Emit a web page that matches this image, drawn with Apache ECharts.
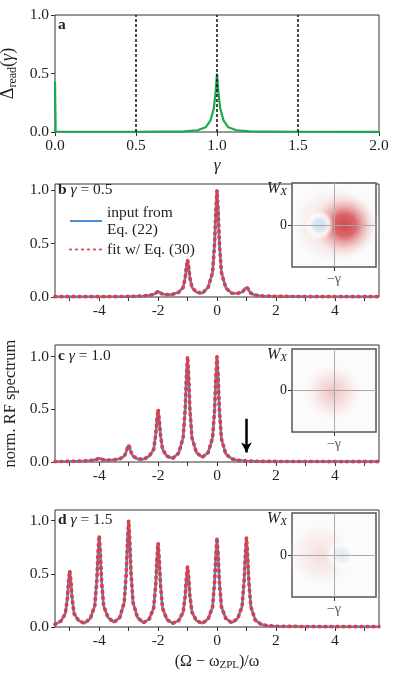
<!DOCTYPE html>
<html>
<head>
<meta charset="utf-8">
<script src="https://cdn.jsdelivr.net/npm/echarts@6/dist/echarts.min.js"></script>
<style>
  html, body { margin: 0; padding: 0; background: #fff; }
  #graph { width: 399px; height: 677px; }
</style>
</head>
<body>
<div id="graph"></div>
<script>
// panel a: readout contrast vs gamma
var curveA = [[0, 0.43], [0.004, 0.002], [0.5, 0.002], [0.8, 0.006], [0.88, 0.015], [0.93, 0.04],
  [0.96, 0.1], [0.98, 0.2], [0.99, 0.32], [1.0, 0.5], [1.01, 0.32], [1.02, 0.2], [1.04, 0.1],
  [1.07, 0.04], [1.12, 0.015], [1.2, 0.006], [1.5, 0.002], [2.0, 0.001]];
var vlinesA = [0.5, 1.0, 1.5];

// panel b: gamma = 0.5
var specB = [[-5.5, 0.003], [-4, 0.003], [-3, 0.005], [-2.5, 0.01],
  [-2.3, 0.015], [-2.15, 0.025], [-2.08, 0.035], [-2.04, 0.048], [-2, 0.055], [-1.96, 0.048], [-1.92, 0.037], [-1.85, 0.028], [-1.7, 0.022], [-1.5, 0.025],
  [-1.3, 0.045], [-1.15, 0.09], [-1.08, 0.18], [-1.04, 0.28], [-1, 0.35], [-0.96, 0.28], [-0.92, 0.18], [-0.85, 0.09], [-0.7, 0.045], [-0.5, 0.035],
  [-0.3, 0.09], [-0.15, 0.23], [-0.08, 0.51], [-0.04, 0.8], [0, 1.0], [0.04, 0.8], [0.08, 0.51], [0.15, 0.23], [0.3, 0.085], [0.5, 0.035],
  [0.7, 0.035], [0.85, 0.045], [0.92, 0.065], [0.96, 0.085], [1, 0.1], [1.04, 0.085], [1.08, 0.06], [1.15, 0.035], [1.3, 0.018], [1.5, 0.01],
  [2, 0.006], [3, 0.004], [5.5, 0.003]];

// panel c: gamma = 1.0
var specC = [[-5.5, 0.004], [-5, 0.006], [-4.5, 0.01],
  [-4.3, 0.014], [-4.15, 0.02], [-4.08, 0.027], [-4.04, 0.032], [-4, 0.035], [-3.96, 0.032], [-3.92, 0.027], [-3.85, 0.02], [-3.7, 0.017], [-3.5, 0.02],
  [-3.3, 0.03], [-3.15, 0.055], [-3.08, 0.095], [-3.04, 0.135], [-3, 0.16], [-2.96, 0.135], [-2.92, 0.095], [-2.85, 0.055], [-2.7, 0.03], [-2.5, 0.025],
  [-2.3, 0.055], [-2.15, 0.12], [-2.08, 0.26], [-2.04, 0.4], [-2, 0.5], [-1.96, 0.4], [-1.92, 0.26], [-1.85, 0.12], [-1.7, 0.055], [-1.5, 0.035],
  [-1.3, 0.085], [-1.15, 0.23], [-1.08, 0.5], [-1.04, 0.8], [-1, 1.0], [-0.96, 0.8], [-0.92, 0.5], [-0.85, 0.23], [-0.7, 0.09], [-0.5, 0.045],
  [-0.3, 0.09], [-0.15, 0.23], [-0.08, 0.5], [-0.04, 0.8], [0, 1.0], [0.04, 0.8], [0.08, 0.5], [0.15, 0.22], [0.3, 0.075], [0.5, 0.03],
  [0.7, 0.017], [1, 0.01], [1.5, 0.006], [2, 0.005], [5.5, 0.004]];
var arrowC = [1, 0.41, 0.09];

// panel d: gamma = 1.5
var specD = [[-5.5, 0.025], [-5.3, 0.055], [-5.15, 0.125], [-5.08, 0.27], [-5.04, 0.43], [-5, 0.53], [-4.96, 0.43], [-4.92, 0.27], [-4.85, 0.125], [-4.7, 0.06], [-4.5, 0.035],
  [-4.3, 0.08], [-4.15, 0.2], [-4.08, 0.44], [-4.04, 0.69], [-4, 0.86], [-3.96, 0.69], [-3.92, 0.44], [-3.85, 0.2], [-3.7, 0.09], [-3.5, 0.045],
  [-3.3, 0.09], [-3.15, 0.23], [-3.08, 0.51], [-3.04, 0.8], [-3, 1.0], [-2.96, 0.8], [-2.92, 0.51], [-2.85, 0.23], [-2.7, 0.09], [-2.5, 0.04],
  [-2.3, 0.075], [-2.15, 0.18], [-2.08, 0.4], [-2.04, 0.63], [-2, 0.79], [-1.96, 0.63], [-1.92, 0.4], [-1.85, 0.18], [-1.7, 0.07], [-1.5, 0.035],
  [-1.3, 0.06], [-1.15, 0.14], [-1.08, 0.29], [-1.04, 0.46], [-1, 0.57], [-0.96, 0.46], [-0.92, 0.29], [-0.85, 0.14], [-0.7, 0.06], [-0.5, 0.035],
  [-0.3, 0.075], [-0.15, 0.19], [-0.08, 0.43], [-0.04, 0.67], [0, 0.84], [0.04, 0.67], [0.08, 0.43], [0.15, 0.19], [0.3, 0.08], [0.5, 0.04],
  [0.7, 0.08], [0.85, 0.19], [0.92, 0.43], [0.96, 0.67], [1, 0.84], [1.04, 0.67], [1.08, 0.43], [1.15, 0.19], [1.3, 0.065], [1.5, 0.025],
  [1.7, 0.012], [2, 0.007], [3, 0.004], [4, 0.003], [5.5, 0.003]];

// Wigner insets: blob centres in inset units (crosshair at 0,0)
var redB = [[0.26, 0]];
var pinkB = [[-0.05, 0]];
var blueB = [[-0.35, 0]];
var pinkC = [[-0.02, -0.05]];
var pinkD = [[-0.3, 0]];
var blueD = [[0.18, 0]];

var xTicks = [-5, -4, -3, -2, -1, 0, 1, 2, 3, 4, 5];
var xLabels = [-4, -2, 0, 2, 4];
var yTicks = [0, 0.5, 1.0];
var maxY = [1.0, 1.06, 1.11, 1.10];

var FONT = 'Liberation Serif';
var FS = 15.5;
var BLUE = '#4a8fd2';
var RED = '#d8404a';

function grad(stops) {
  return { type: 'radial', x: 0.5, y: 0.5, r: 0.5, colorStops: stops };
}

function mainX(i, name) {
  var ax = {
    type: 'value', gridIndex: i, min: -5.5, max: 5.5,
    axisLine: { show: false, onZero: false },
    axisTick: { show: true, inside: false, length: 4, customValues: xTicks, lineStyle: { color: '#333' } },
    axisLabel: { customValues: xLabels, margin: 6, fontFamily: FONT, fontSize: FS, color: '#222' },
    splitLine: { show: false }
  };
  if (name) {
    ax.name = name;
    ax.nameLocation = 'middle';
    ax.nameGap = 25;
    ax.nameTextStyle = { fontFamily: FONT, fontSize: 16, color: '#222',
      rich: { s: { fontFamily: FONT, fontSize: 11, color: '#222', verticalAlign: 'bottom', padding: [8, 0, 0, 0] } } };
  }
  return ax;
}

function mainY(i) {
  return {
    type: 'value', gridIndex: i, min: 0, max: maxY[i],
    axisLine: { show: false, onZero: false },
    axisTick: { show: true, inside: false, length: 4, customValues: yTicks, lineStyle: { color: '#333' } },
    axisLabel: { customValues: yTicks, margin: 6, fontFamily: FONT, fontSize: FS, color: '#222',
      formatter: function (v) { return v.toFixed(1); } },
    splitLine: { show: false }
  };
}

function insetX(i) {
  return {
    type: 'value', gridIndex: i, min: -1, max: 1,
    axisLine: { show: false, onZero: false },
    axisTick: { show: true, length: 4, customValues: [0], lineStyle: { color: '#333' } },
    axisLabel: { customValues: [0], margin: 5, fontFamily: FONT, fontSize: 14, color: '#555',
      formatter: function () { return '\u2212\u03b3'; } },
    splitLine: { show: false }
  };
}

function insetY(i) {
  return {
    type: 'value', gridIndex: i, min: -1, max: 1,
    axisLine: { show: false, onZero: false },
    axisTick: { show: true, length: 4, customValues: [0], lineStyle: { color: '#333' } },
    axisLabel: { customValues: [0], margin: 5, fontFamily: FONT, fontSize: 14, color: '#222',
      formatter: function () { return '0'; } },
    splitLine: { show: false }
  };
}

function blob(i, data, size, stops, withCross) {
  var s = {
    type: 'scatter', xAxisIndex: i, yAxisIndex: i, data: data, symbolSize: size,
    silent: true, itemStyle: { color: grad(stops) }, z: 3
  };
  if (withCross) {
    s.markLine = {
      silent: true, symbol: 'none', label: { show: false },
      lineStyle: { color: '#aaa', width: 1, type: 'solid' },
      data: [{ xAxis: 0 }, { yAxis: 0 }]
    };
  }
  return s;
}

function specPair(i, data) {
  return [
    { name: 'input from\nEq. (22)', type: 'line', xAxisIndex: i, yAxisIndex: i, data: data,
      showSymbol: false, symbol: 'none', lineStyle: { color: BLUE, width: 2.6 }, itemStyle: { color: BLUE }, z: 2 },
    { name: 'fit w/ Eq. (30)', type: 'line', xAxisIndex: i, yAxisIndex: i, data: data,
      showSymbol: false, symbol: 'none', lineStyle: { color: RED, width: 3.7, type: [1, 5], cap: 'round' }, itemStyle: { color: RED }, z: 3 }
  ];
}

var gridBox = { show: true, borderColor: '#333', borderWidth: 1, backgroundColor: 'transparent', outerBoundsMode: 'none', containLabel: false };
var insetBox = { show: true, borderColor: '#555', borderWidth: 1.5, backgroundColor: '#fbfbfb', outerBoundsMode: 'none', containLabel: false };

var dom = document.getElementById('graph');
var myChart = echarts.init(dom, null, { renderer: 'canvas' });

var series = [];
series.push({
  type: 'line', xAxisIndex: 0, yAxisIndex: 0, data: curveA, showSymbol: false, symbol: 'none',
  lineStyle: { color: '#1ea84e', width: 2.2 },
  markLine: {
    silent: true, symbol: 'none', label: { show: false },
    lineStyle: { color: '#111', width: 1.5, type: [3, 2] },
    data: vlinesA.map(function (v) { return { xAxis: v }; })
  }
});
series = series.concat(specPair(1, specB), specPair(2, specC), specPair(3, specD));
// arrow in panel c
series[4].markLine = {
  silent: true, symbol: ['none', 'arrow'], symbolSize: [8, 10], label: { show: false },
  lineStyle: { color: '#000', width: 2.5, type: 'solid' },
  data: [[{ coord: [arrowC[0], arrowC[1]] }, { coord: [arrowC[0], arrowC[2]] }]]
};

// inset b
series.push(blob(4, pinkB, 88, [
  { offset: 0, color: 'rgba(225,120,125,0.35)' }, { offset: 0.7, color: 'rgba(235,165,165,0.12)' }, { offset: 1, color: 'rgba(255,255,255,0)' }], false));
series.push(blob(4, redB, 70, [
  { offset: 0, color: 'rgba(198,26,36,0.97)' }, { offset: 0.32, color: 'rgba(208,48,54,0.88)' },
  { offset: 0.65, color: 'rgba(228,125,125,0.38)' }, { offset: 1, color: 'rgba(255,255,255,0)' }], false));
series.push(blob(4, blueB, 30, [
  { offset: 0, color: 'rgba(255,255,255,1)' }, { offset: 0.65, color: 'rgba(255,255,255,1)' }, { offset: 1, color: 'rgba(255,255,255,0)' }], false));
series.push(blob(4, blueB, 22, [
  { offset: 0, color: 'rgba(196,216,236,1)' }, { offset: 0.6, color: 'rgba(208,224,240,0.85)' }, { offset: 1, color: 'rgba(255,255,255,0)' }], true));
// inset c
series.push(blob(5, pinkC, 64, [
  { offset: 0, color: 'rgba(232,150,155,0.75)' }, { offset: 0.5, color: 'rgba(240,180,182,0.4)' }, { offset: 1, color: 'rgba(255,255,255,0)' }], true));
// inset d
series.push(blob(6, pinkD, 72, [
  { offset: 0, color: 'rgba(240,188,192,0.6)' }, { offset: 0.6, color: 'rgba(245,208,208,0.3)' }, { offset: 1, color: 'rgba(255,255,255,0)' }], false));
series.push(blob(6, blueD, 32, [
  { offset: 0, color: 'rgba(255,255,255,1)' }, { offset: 0.6, color: 'rgba(255,255,255,1)' }, { offset: 1, color: 'rgba(255,255,255,0)' }], false));
series.push(blob(6, blueD, 24, [
  { offset: 0, color: 'rgba(210,226,242,0.95)' }, { offset: 0.6, color: 'rgba(220,232,244,0.7)' }, { offset: 1, color: 'rgba(255,255,255,0)' }], true));

function label(x, y, letter, gam) {
  var txt = '{b|' + letter + '}' + (gam ? ' {i|\u03b3} = ' + gam : '');
  return {
    type: 'text', left: x, top: y, silent: true,
    style: {
      text: txt, fontFamily: FONT, fontSize: FS, fill: '#222',
      rich: { b: { fontFamily: FONT, fontSize: FS, fontWeight: 'bold', color: '#222' },
              i: { fontFamily: FONT, fontSize: FS, fontStyle: 'italic', color: '#222' } }
    }
  };
}

function wx(y) {
  return {
    type: 'text', left: 267, top: y, silent: true,
    style: {
      text: '{w|W}{x|X}', fontFamily: FONT, fill: '#222',
      rich: { w: { fontFamily: FONT, fontSize: 16, fontStyle: 'italic', color: '#222' },
              x: { fontFamily: FONT, fontSize: 11, fontStyle: 'italic', color: '#222', verticalAlign: 'bottom', padding: [6, 0, 0, 0] } }
    }
  };
}

option = {
  backgroundColor: '#fff',
  animation: false,
  grid: [
    Object.assign({ left: 55, top: 15, width: 324, height: 117 }, gridBox),
    Object.assign({ left: 55, top: 184, width: 324, height: 113 }, gridBox),
    Object.assign({ left: 55, top: 345, width: 324, height: 117 }, gridBox),
    Object.assign({ left: 55, top: 510, width: 324, height: 117 }, gridBox),
    Object.assign({ left: 292, top: 183, width: 84, height: 84 }, insetBox),
    Object.assign({ left: 292, top: 349, width: 84, height: 83 }, insetBox),
    Object.assign({ left: 292, top: 513, width: 84, height: 84 }, insetBox)
  ],
  xAxis: [
    {
      type: 'value', gridIndex: 0, min: 0, max: 2, interval: 0.5,
      axisLine: { show: false, onZero: false },
      axisTick: { show: true, length: 4, lineStyle: { color: '#333' } },
      axisLabel: { margin: 6, fontFamily: FONT, fontSize: FS, color: '#222', formatter: function (v) { return v.toFixed(1); } },
      splitLine: { show: false },
      name: '\u03b3', nameLocation: 'middle', nameGap: 25,
      nameTextStyle: { fontFamily: FONT, fontSize: 17, fontStyle: 'italic', color: '#222' }
    },
    mainX(1), mainX(2), mainX(3, '(\u03a9 \u2212 \u03c9{s|ZPL})/\u03c9'),
    insetX(4), insetX(5), insetX(6)
  ],
  yAxis: [
    {
      type: 'value', gridIndex: 0, min: 0, max: 1, interval: 0.5,
      axisLine: { show: false, onZero: false },
      axisTick: { show: true, length: 4, lineStyle: { color: '#333' } },
      axisLabel: { margin: 6, fontFamily: FONT, fontSize: FS, color: '#222', formatter: function (v) { return v.toFixed(1); } },
      splitLine: { show: false },
      name: '{d|\u0394}{s|read}{d|(}{i|\u03b3}{d|)}', nameLocation: 'middle', nameGap: 29, nameRotate: 90,
      nameTextStyle: {
        fontFamily: FONT, fontSize: 18, color: '#222',
        rich: {
          d: { fontFamily: FONT, fontSize: 18, color: '#222' },
          i: { fontFamily: FONT, fontSize: 18, fontStyle: 'italic', color: '#222' },
          s: { fontFamily: FONT, fontSize: 12, color: '#222', verticalAlign: 'bottom', padding: [9, 0, 0, 0] }
        }
      }
    },
    mainY(1),
    Object.assign(mainY(2), {
      name: 'norm. RF spectrum', nameLocation: 'middle', nameGap: 30, nameRotate: 90,
      nameTextStyle: { fontFamily: FONT, fontSize: 16.5, color: '#222' }
    }),
    mainY(3),
    insetY(4), insetY(5), insetY(6)
  ],
  legend: {
    left: 64, top: 199, orient: 'vertical', itemWidth: 32, itemHeight: 12, itemGap: 3,
    selectedMode: false,
    itemStyle: { opacity: 0 },
    textStyle: { fontFamily: FONT, fontSize: FS, color: '#222', lineHeight: 17 },
    data: ['input from\nEq. (22)', 'fit w/ Eq. (30)']
  },
  graphic: [
    label(58, 17, 'a'),
    label(58, 182, 'b', '0.5'),
    label(58, 348, 'c', '1.0'),
    label(58, 512, 'd', '1.5'),
    wx(181), wx(347), wx(511)
  ],
  series: series
};

if (option && typeof option === 'object') {
  myChart.setOption(option, true);
}
</script>
</body>
</html>
